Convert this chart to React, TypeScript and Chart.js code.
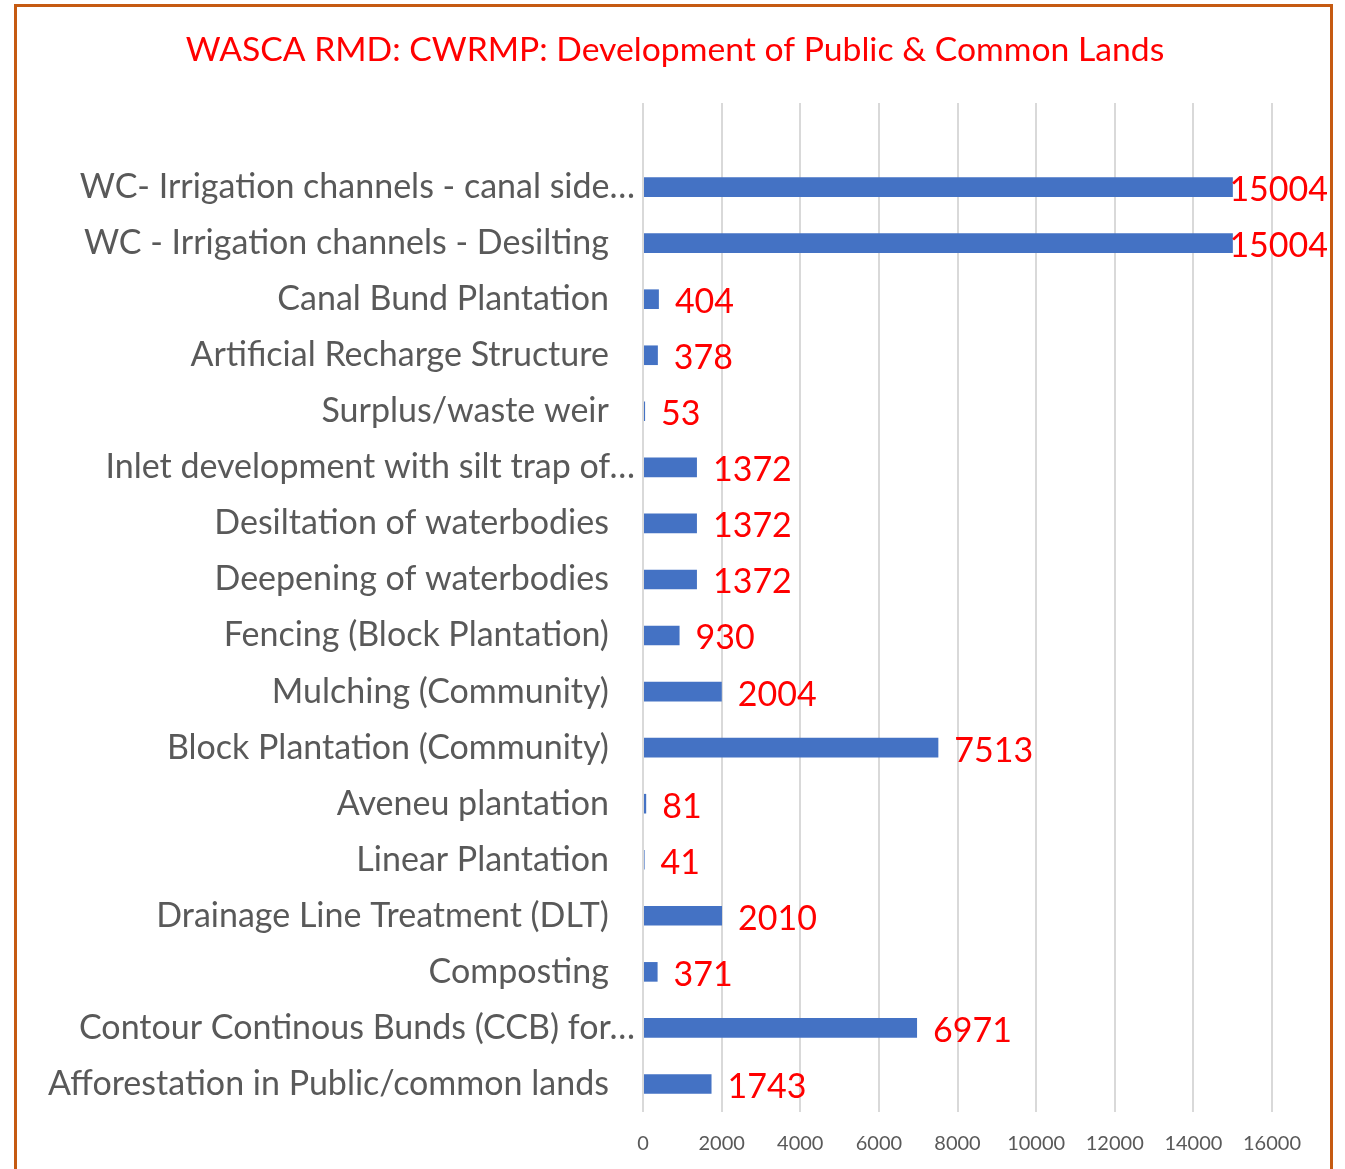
import React, { useEffect, useRef } from "react";
import { Chart, registerables } from "chart.js";

Chart.register(...registerables);

const TITLE = "WASCA RMD: CWRMP: Development of Public & Common Lands";

const categories: string[] = [
  "",
  "WC- Irrigation channels - canal side…",
  "WC - Irrigation channels - Desilting",
  "Canal Bund Plantation",
  "Artificial Recharge Structure",
  "Surplus/waste weir",
  "Inlet development with silt trap of…",
  "Desiltation of waterbodies",
  "Deepening of waterbodies",
  "Fencing (Block Plantation)",
  "Mulching (Community)",
  "Block Plantation (Community)",
  "Aveneu plantation",
  "Linear Plantation",
  "Drainage Line Treatment (DLT)",
  "Composting",
  "Contour Continous Bunds (CCB) for…",
  "Afforestation in Public/common lands",
];

const values: (number | null)[] = [
  null, 15004, 15004, 404, 378, 53, 1372, 1372, 1372, 930, 2004, 7513, 81, 41, 2010, 371, 6971, 1743,
];

const xTicks: number[] = [0, 2000, 4000, 6000, 8000, 10000, 12000, 14000, 16000];

const FONT = "Lato";
const LABEL_RIGHT_LIMIT = 1328;

const titlePlugin = {
  id: "centeredTitle",
  afterDraw(chart: any) {
    const ctx = chart.ctx;
    ctx.save();
    ctx.font = `33.7px ${FONT}`;
    ctx.fillStyle = "#FF0000";
    ctx.textAlign = "center";
    ctx.textBaseline = "middle";
    ctx.fillText(TITLE, 675, 50);
    ctx.restore();
  },
};

const dataLabelPlugin = {
  id: "valueLabels",
  afterDatasetsDraw(chart: any) {
    const ctx = chart.ctx;
    const meta = chart.getDatasetMeta(0);
    ctx.save();
    ctx.font = `34px ${FONT}`;
    ctx.fillStyle = "#FF0000";
    ctx.textBaseline = "middle";
    ctx.textAlign = "left";
    meta.data.forEach((el: any, i: number) => {
      const v = values[i];
      if (v === null || v === undefined) return;
      const text = String(v);
      const w = ctx.measureText(text).width;
      let x = el.x + 16;
      if (x + w > LABEL_RIGHT_LIMIT) x = LABEL_RIGHT_LIMIT - w;
      ctx.fillText(text, x, el.y + 3);
    });
    ctx.restore();
  },
};

export default function App() {
  const ref = useRef<HTMLCanvasElement | null>(null);

  useEffect(() => {
    if (!ref.current) return;
    const chart = new Chart(ref.current, {
      type: "bar",
      data: {
        labels: categories,
        datasets: [
          {
            data: values,
            backgroundColor: "#4472C4",
            borderWidth: 0,
            categoryPercentage: 1,
            barPercentage: 0.35,
          },
        ],
      },
      options: {
        indexAxis: "y",
        animation: false,
        responsive: false,
        maintainAspectRatio: false,
        layout: { padding: { left: 0, right: 73, top: 103, bottom: 0 } },
        plugins: {
          legend: { display: false },
          tooltip: { enabled: false },
          title: { display: false },
        },
        scales: {
          x: {
            type: "linear",
            min: 0,
            max: 16000,
            afterBuildTicks: (scale: any) => {
              scale.ticks = xTicks.map((v) => ({ value: v }));
            },
            afterFit: (scale: any) => {
              scale.height = 57;
            },
            grid: { color: "#D9D9D9", lineWidth: 2, drawTicks: false },
            border: { display: false },
            ticks: {
              color: "#595959",
              font: { family: FONT, size: 20 },
              padding: 20,
              callback: (v: any) => String(v),
            },
          },
          y: {
            type: "category",
            afterFit: (scale: any) => {
              scale.width = 643;
            },
            grid: { display: false, drawTicks: false },
            border: { display: false },
            ticks: {
              color: "#595959",
              font: { family: FONT, size: 34 },
              padding: 8,
              autoSkip: false,
              callback: (_v: any, i: number) => {
                const label = categories[i];
                if (!label) return "";
                return label.endsWith("…") ? label : label + "   ";
              },
            },
          },
        },
      },
      plugins: [dataLabelPlugin, titlePlugin],
    } as any);
    return () => chart.destroy();
  }, []);

  return (
    <div style={{ position: "absolute", left: 0, top: 0, width: 1345, height: 1169, overflow: "hidden", background: "#fff" }}>
      <div
        style={{
          position: "absolute",
          left: 14,
          top: 4,
          width: 1313,
          height: 1200,
          border: "3px solid #C55A11",
          boxSizing: "content-box",
        }}
      />
      <canvas ref={ref} width={1345} height={1169} style={{ position: "absolute", left: 0, top: 0, width: 1345, height: 1169 }} />
    </div>
  );
}
